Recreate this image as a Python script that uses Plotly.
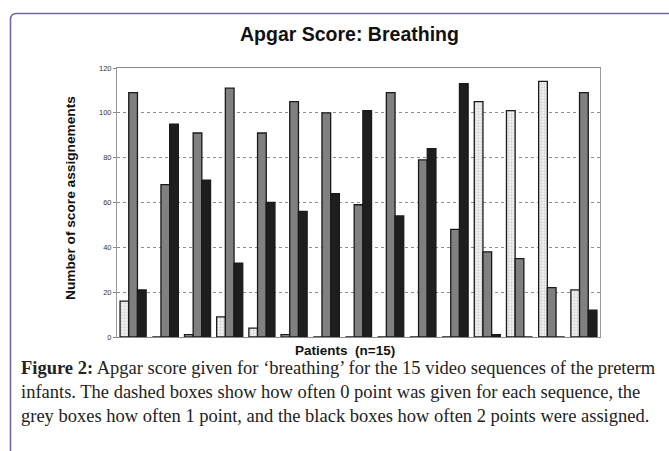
import plotly.graph_objects as go

patients = [str(i) for i in range(1, 16)]
score0 = [16, 0, 1, 9, 4, 1, 0, 0, 0, 0, 0, 105, 101, 114, 21]
score1 = [109, 68, 91, 111, 91, 105, 100, 59, 109, 79, 48, 38, 35, 22, 109]
score2 = [21, 95, 70, 33, 60, 56, 64, 101, 54, 84, 113, 1, 0, 0, 12]
y_ticks = [0, 20, 40, 60, 80, 100, 120]

W, H = 669, 451
L, R, T, B = 117, 600, 68, 337
pw, ph = R - L, B - T

def px(x):
    return (x - L) / pw

def py(y):
    return (B - y) / ph

line = dict(color="#1a1a1a", width=1.3)
fig = go.Figure()
fig.add_bar(x=patients, y=score0, name="0 points",
            marker=dict(color="white", line=line,
                        pattern=dict(shape=".", fgcolor="#b5b5b5", bgcolor="#f4f4f4",
                                     size=3, solidity=0.45)))
fig.add_bar(x=patients, y=score1, name="1 point",
            marker=dict(color="#808080", line=line))
fig.add_bar(x=patients, y=score2, name="2 points",
            marker=dict(color="#1e1e1e", line=line))

# outer rounded frame
x0, y0, x1, y1, r = 10.5, 13.5, 690, 480, 6
path = (f"M {px(x0)},{py(y1)} L {px(x0)},{py(y0 + r)} "
        f"Q {px(x0)},{py(y0)} {px(x0 + r)},{py(y0)} L {px(x1)},{py(y0)}")
shapes = [dict(type="path", xref="paper", yref="paper", path=path,
               line=dict(color="#6a6aa6", width=1.6), layer="below")]

caption_lines = [
    "<b>Figure 2:</b> Apgar score given for ‘breathing’ for the 15 video sequences of the preterm",
    "infants. The dashed boxes show how often 0 point was given for each sequence, the",
    "grey boxes how often 1 point, and the black boxes how often 2 points were assigned.",
]
annotations = [
    dict(text="<b>Apgar Score: Breathing</b>", x=px(349), y=py(34), xref="paper", yref="paper",
         showarrow=False, font=dict(family="Liberation Sans, Arial", size=19.5, color="#111"),
         xanchor="center", yanchor="middle"),
    dict(text="<b>Number of score assignements</b>", x=px(70), y=py(198), xref="paper", yref="paper",
         showarrow=False, textangle=-90,
         font=dict(family="Liberation Sans, Arial", size=13.7, color="#111"),
         xanchor="center", yanchor="middle"),
    dict(text="<b>Patients\u00a0\u00a0(n=15)</b>", x=px(345), y=py(350), xref="paper", yref="paper",
         showarrow=False, font=dict(family="Liberation Sans, Arial", size=13.5, color="#111"),
         xanchor="center", yanchor="middle"),
]
for i, t in enumerate(caption_lines):
    annotations.append(dict(text=t, x=px(19), y=py(367.5 + 24.3 * i), xref="paper", yref="paper",
                            showarrow=False, xanchor="left", yanchor="middle", align="left",
                            font=dict(family="Liberation Serif, Times New Roman", size=18.5,
                                      color="#222")))

fig.update_layout(
    width=W, height=H,
    margin=dict(l=L, r=W - R, t=T, b=H - B, pad=0),
    paper_bgcolor="white", plot_bgcolor="white",
    barmode="group", bargap=0.19, bargroupgap=0,
    showlegend=False,
    shapes=shapes, annotations=annotations,
    xaxis=dict(type="category", range=[-0.5, 14.5], showticklabels=False, ticks="",
               showgrid=False, showline=True, linecolor="#8a8a8a", linewidth=1, mirror=True,
               zeroline=False),
    yaxis=dict(range=[0, 120], tickvals=y_ticks, ticks="outside", ticklen=3,
               tickcolor="#888", tickfont=dict(family="Liberation Sans, Arial", size=7.5, color="#333"),
               showgrid=True, gridcolor="#8c8c8c", griddash="dot", gridwidth=1,
               showline=True, linecolor="#9a9a9a", linewidth=1, mirror=True, zeroline=False),
)
fig.write_html("out.html", config={"displayModeBar": False},
               post_script="document.body.style.margin='0px';document.body.style.overflow='hidden';")
